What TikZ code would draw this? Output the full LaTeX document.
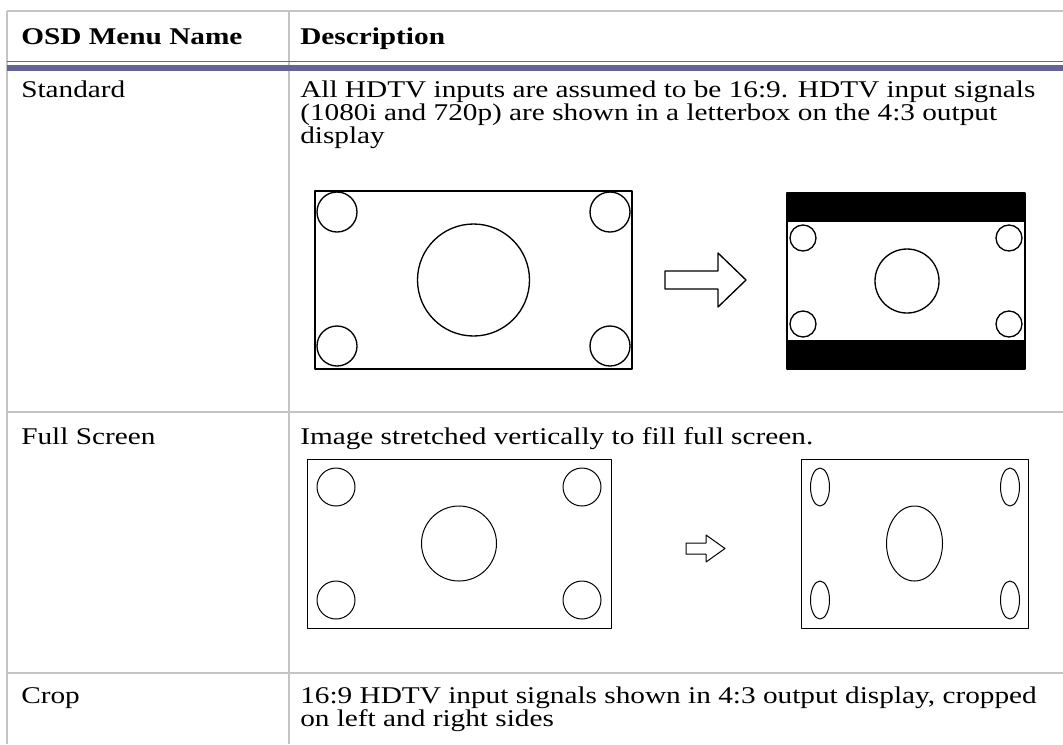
\documentclass[tikz,border=0pt]{standalone}
\usepackage{fontspec}
\setmainfont{Liberation Serif}[FakeStretch=1.22]
\usetikzlibrary{positioning}

\definecolor{ruleGrey}{HTML}{C4C4C4}
\definecolor{headBlue}{HTML}{646496}

\begin{document}
\begin{tikzpicture}[x=0.75pt, y=-0.75pt, line join=round,
    rule/.style={draw=ruleGrey, line width=1.1pt},
    cell/.style={anchor=base west, inner sep=0pt, align=left,
      font=\fontsize{18}{17.25}\selectfont},
    head/.style={cell, font=\fontsize{18}{17.25}\selectfont\bfseries},
    frame/.style={draw, line width=1.5pt},
    ring/.style={draw, line width=1pt},
    thinframe/.style={draw, line width=0.75pt}]

    \useasboundingbox (0,0) rectangle (1063,744);

    % table rules
    \draw[rule] (7,11) -- (1063,11);
    \draw[rule] (7,11) -- (7,744);
    \draw[rule] (289,11) -- (289,744);
    \draw[rule] (7,412) -- (1063,412);
    \draw[rule] (7,673) -- (1063,673);
    % double rule under the header
    \fill[headBlue] (7,60.5) rectangle (1063,62);
    \fill[headBlue] (7,65) rectangle (1063,71);

    % header
    \node[head] (nameHead) at (21,44) {OSD Menu Name};
    \node[head] (descHead) at (300,44) {Description};

    % row: Standard (base anchor = last line)
    \node[cell] (stdName) at (21,97) {Standard};
    \node[cell] (stdDesc) at (300,143) {All HDTV inputs are assumed to be 16:9. HDTV input signals\\
      (1080i and 720p) are shown in a letterbox on the 4:3 output\\
      display};

    % 16:9 source picture
    \draw[frame] (315,191) rectangle (632,369);
    \draw[ring] (473.5,280) circle (56);
    \foreach \cx/\cy in {337/212, 610/212, 337/346, 610/346}
      \draw[ring] (\cx,\cy) circle (20);

    % block arrow
    \draw[ring] (665,271) -- (718,271) -- (718,253) -- (746,280)
      -- (718,307) -- (718,289) -- (665,289) -- cycle;

    % letterbox output
    \fill (787,193) rectangle (1025,222);
    \fill (787,340) rectangle (1025,369);
    \draw[frame] (787,193) rectangle (1025,369);
    \draw[ring] (907,281) circle (32);
    \foreach \cx/\cy in {803/238, 1009/238, 803/324, 1009/324}
      \draw[ring] (\cx,\cy) circle (13);

    % row: Full Screen
    \node[cell] (fullName) at (21,444) {Full Screen};
    \node[cell] (fullDesc) at (300,444) {Image stretched vertically to fill full screen.};

    % 16:9 source picture
    \draw[thinframe] (307,459) rectangle (611,628);
    \draw[thinframe] (459,543.5) circle (37.5);
    \foreach \cx/\cy in {336/487, 582/487, 336/600, 582/600}
      \draw[thinframe] (\cx,\cy) circle (19);

    % small block arrow
    \draw[thinframe] (686,543) -- (706,543) -- (706,535) -- (725,548.5)
      -- (706,562) -- (706,554) -- (686,554) -- cycle;

    % stretched output
    \draw[thinframe] (801,459) rectangle (1028,628);
    \draw[thinframe] (914.5,543.5) ellipse [x radius=28, y radius=37.5];
    \foreach \cx/\cy in {820/487, 1010/487, 820/600, 1010/600}
      \draw[thinframe] (\cx,\cy) ellipse [x radius=9.5, y radius=19];

    % row: Crop
    \node[cell] (cropName) at (21,703) {Crop};
    \node[cell] (cropDesc) at (300,726) {16:9 HDTV input signals shown in 4:3 output display, cropped\\
      on left and right sides};

\end{tikzpicture}
\end{document}
